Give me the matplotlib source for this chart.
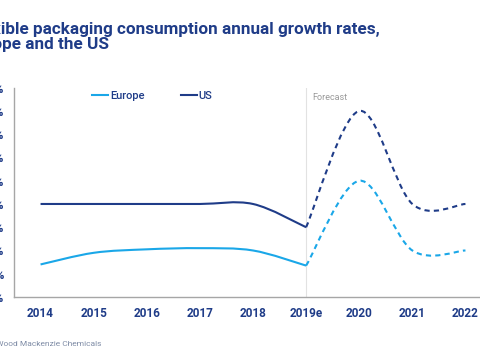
import numpy as np
import matplotlib.pyplot as plt
from matplotlib.path import Path
from matplotlib.patches import PathPatch
from matplotlib.lines import Line2D

plt.rcParams['font.family'] = ['Roboto', 'DejaVu Sans']

years = ["2014", "2015", "2016", "2017", "2018", "2019e", "2020", "2021", "2022"]
# actual data up to 2019e, forecast from 2019e on
europe_hist = [1.4, 1.9, 2.05, 2.1, 2.0, 1.35]
us_hist = [4.0, 4.0, 4.0, 4.0, 4.0, 3.0]
europe_fcst = [1.35, 5.0, 2.0, 2.0]
us_fcst = [3.0, 8.0, 4.0, 4.0]
yticks = [0, 1, 2, 3, 4, 5, 6, 7, 8, 9]
ytick_labels = [f"{v}%" for v in yticks]

NAVY = "#1f3c88"
LIGHT = "#1aa7e8"


def smooth_path(xs, ys):
    # excel style "smoothed line": one cubic bezier per segment
    pts = np.column_stack([xs, ys]).astype(float)
    padded = np.vstack([pts[0], pts, pts[-1]])
    verts = [pts[0]]
    codes = [Path.MOVETO]
    for i in range(len(pts) - 1):
        p0, p1, p2, p3 = padded[i], padded[i + 1], padded[i + 2], padded[i + 3]
        verts += [p1 + (p2 - p0) / 6, p2 - (p3 - p1) / 6, p2]
        codes += [Path.CURVE4] * 3
    return Path(verts, codes)


def fit_size(fig, text, width_px, weight="normal"):
    # font size that gives `text` the wanted width in pixels
    probe = fig.text(0, 0, text, fontsize=10, fontweight=weight)
    w = probe.get_window_extent(fig.canvas.get_renderer()).width
    probe.remove()
    return 10 * width_px / w


fig = plt.figure(figsize=(4.8, 3.57), dpi=100)
ax = fig.add_axes([14 / 480, 60 / 357, 478 / 480, 209.3 / 357])

x_hist = np.arange(len(europe_hist))
x_fcst = np.arange(len(europe_hist) - 1, len(years))

for xs, ys, col, ls in [(x_hist, europe_hist, LIGHT, "-"), (x_hist, us_hist, NAVY, "-"),
                        (x_fcst, europe_fcst, LIGHT, (0, (2.5, 2))), (x_fcst, us_fcst, NAVY, (0, (2.5, 2)))]:
    ax.add_patch(PathPatch(smooth_path(xs, ys), facecolor="none", edgecolor=col,
                           lw=1.5, linestyle=ls, capstyle="butt", joinstyle="miter"))

ax.axvline(5, color="#e2e2e2", lw=0.8, zorder=0)
ax.text(5.12, 8.58, "Forecast", fontsize=6.5, color="#9a9a9a", ha="left", va="center")

ax.set_xlim(-0.5, 8.5)
ax.set_ylim(0, 9)
ax.set_xticks(range(len(years)), years)
ax.set_yticks(yticks, ytick_labels)
ax.tick_params(axis="x", length=0, pad=7.5, labelsize=8.5, labelcolor=NAVY)
ax.tick_params(axis="y", length=0, pad=7.2, labelsize=8.5, labelcolor=NAVY)
for lab in ax.get_xticklabels() + ax.get_yticklabels():
    lab.set_fontweight("bold")
for s in ["top", "right"]:
    ax.spines[s].set_visible(False)
for s in ["left", "bottom"]:
    ax.spines[s].set_color("#a6a6a6")
    ax.spines[s].set_linewidth(1.0)

handles = [Line2D([], [], color=LIGHT, lw=1.5), Line2D([], [], color=NAVY, lw=1.5)]
leg = fig.legend(handles, ["Europe", "US"], ncol=2, frameon=False, fontsize=8,
                 loc="center left", bbox_to_anchor=(92 / 480, 1 - 96 / 357),
                 borderaxespad=0, borderpad=0, handlelength=1.45, handletextpad=0.15,
                 columnspacing=3.3)
for t in leg.get_texts():
    t.set_color(NAVY)
    t.set_fontweight("medium")

# title and source are cut at the left edge, size them so the visible parts line up
title_size = fit_size(fig, "ible packaging consumption annual growth rates,", 380, "bold")
source_size = fit_size(fig, "ood Mackenzie Chemicals", 97.7)

fig.text(380 / 480, 1 - 34 / 357, "Flexible packaging consumption annual growth rates,",
         fontsize=title_size, fontweight="bold", color=NAVY, ha="right", va="baseline")
fig.text(109 / 480, 1 - 49.5 / 357, "Europe and the US",
         fontsize=title_size, fontweight="bold", color=NAVY, ha="right", va="baseline")
fig.text(101.7 / 480, 1 - 346 / 357, "Source: Wood Mackenzie Chemicals",
         fontsize=source_size, color="#7f8ca6", ha="right", va="baseline")

fig.savefig("out.png", dpi=100)
